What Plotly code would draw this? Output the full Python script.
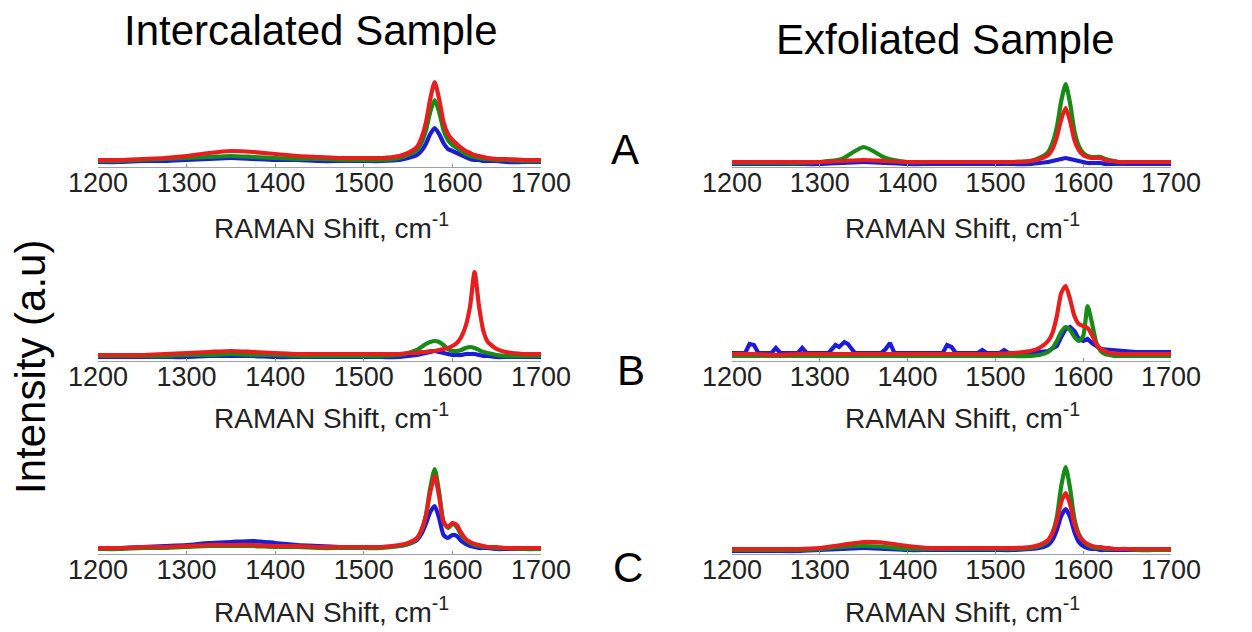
import plotly.graph_objects as go

# ---------------- data ----------------
X = [1200, 1225, 1250, 1275, 1300, 1325, 1350, 1375, 1400, 1425, 1450, 1475, 1500,
     1520, 1540, 1550, 1560, 1565, 1570, 1575, 1580, 1585, 1590, 1595, 1600,
     1605, 1610, 1615, 1620, 1625, 1630, 1635, 1640, 1650, 1660, 1680, 1700]

# Intercalated sample, row A
intA_red = [0.07,0.07,0.08,0.09,0.11,0.14,0.16,0.15,0.13,0.11,0.10,0.09,0.09,
            0.09,0.11,0.14,0.20,0.29,0.44,0.68,0.85,0.68,0.45,0.33,0.27,
            0.23,0.19,0.16,0.14,0.12,0.11,0.10,0.09,0.08,0.08,0.07,0.07]
intA_green = [0.06,0.06,0.07,0.08,0.09,0.10,0.11,0.10,0.09,0.08,0.08,0.07,0.07,
              0.07,0.09,0.12,0.17,0.24,0.36,0.55,0.67,0.55,0.37,0.27,0.22,
              0.19,0.16,0.13,0.11,0.10,0.09,0.08,0.08,0.07,0.07,0.06,0.06]
intA_blue = [0.05,0.05,0.06,0.06,0.07,0.08,0.09,0.08,0.07,0.07,0.06,0.06,0.06,
             0.06,0.07,0.09,0.12,0.16,0.23,0.33,0.39,0.33,0.24,0.18,0.16,
             0.14,0.12,0.10,0.08,0.07,0.07,0.06,0.06,0.06,0.05,0.05,0.05]

# Intercalated sample, row B
intB_red = [0.06,0.06,0.06,0.07,0.08,0.09,0.10,0.09,0.08,0.07,0.07,0.07,0.07,
            0.07,0.07,0.08,0.08,0.09,0.09,0.10,0.10,0.11,0.12,0.13,0.15,
            0.18,0.24,0.35,0.55,0.89,0.55,0.30,0.19,0.12,0.09,0.07,0.07]
intB_green = [0.05,0.05,0.05,0.05,0.06,0.06,0.07,0.06,0.06,0.05,0.05,0.05,0.05,
              0.05,0.06,0.08,0.11,0.14,0.17,0.19,0.20,0.19,0.16,0.12,0.10,
              0.10,0.11,0.13,0.14,0.13,0.11,0.09,0.08,0.06,0.05,0.05,0.05]
intB_blue = [0.04,0.04,0.04,0.04,0.04,0.05,0.05,0.05,0.04,0.04,0.04,0.04,0.04,
             0.04,0.04,0.05,0.06,0.07,0.08,0.09,0.10,0.09,0.08,0.07,0.06,
             0.06,0.06,0.07,0.07,0.07,0.06,0.05,0.05,0.04,0.04,0.04,0.04]

# Intercalated sample, row C
intC_red = [0.06,0.06,0.07,0.07,0.08,0.09,0.09,0.09,0.08,0.08,0.07,0.07,0.07,
            0.07,0.09,0.11,0.16,0.24,0.38,0.62,0.78,0.58,0.32,0.27,0.31,
            0.29,0.21,0.15,0.12,0.10,0.09,0.08,0.07,0.07,0.06,0.06,0.06]
intC_green = [0.05,0.05,0.06,0.06,0.07,0.08,0.08,0.08,0.07,0.07,0.06,0.06,0.06,
              0.06,0.08,0.10,0.15,0.23,0.38,0.66,0.85,0.62,0.32,0.26,0.30,
              0.27,0.19,0.14,0.11,0.09,0.08,0.07,0.07,0.06,0.06,0.05,0.05]
intC_blue = [0.05,0.06,0.07,0.08,0.09,0.11,0.12,0.13,0.11,0.09,0.08,0.07,0.07,
             0.07,0.08,0.10,0.14,0.20,0.30,0.42,0.48,0.36,0.19,0.16,0.19,
             0.18,0.13,0.10,0.08,0.07,0.06,0.06,0.06,0.05,0.05,0.05,0.05]

# Exfoliated sample, row A
exfA_red = [0.05,0.05,0.05,0.05,0.05,0.06,0.07,0.06,0.05,0.05,0.05,0.05,0.05,
            0.05,0.06,0.08,0.12,0.18,0.30,0.48,0.59,0.46,0.27,0.17,0.12,
            0.10,0.09,0.09,0.09,0.07,0.06,0.06,0.05,0.05,0.05,0.05,0.05]
exfA_green = [0.04,0.04,0.04,0.04,0.05,0.08,0.20,0.09,0.05,0.05,0.05,0.05,0.05,
              0.05,0.06,0.09,0.15,0.24,0.40,0.66,0.83,0.64,0.36,0.21,0.14,
              0.11,0.10,0.10,0.10,0.08,0.07,0.06,0.05,0.05,0.05,0.05,0.05]
exfA_blue = [0.03,0.03,0.03,0.03,0.03,0.04,0.05,0.04,0.03,0.03,0.03,0.03,0.03,
             0.03,0.03,0.04,0.05,0.06,0.07,0.08,0.09,0.08,0.07,0.06,0.05,
             0.04,0.04,0.04,0.04,0.03,0.03,0.03,0.03,0.03,0.03,0.03,0.03]

# Exfoliated sample, row B
exfB_red = [0.07,0.07,0.06,0.07,0.07,0.07,0.07,0.07,0.07,0.07,0.07,0.07,0.07,
            0.08,0.10,0.13,0.20,0.28,0.45,0.68,0.75,0.62,0.45,0.37,0.35,
            0.33,0.26,0.17,0.12,0.10,0.08,0.08,0.07,0.07,0.07,0.07,0.07]
exfB_green = [0.05,0.05,0.05,0.05,0.05,0.05,0.05,0.05,0.05,0.05,0.05,0.05,0.05,
              0.05,0.05,0.06,0.09,0.13,0.20,0.29,0.34,0.31,0.24,0.20,0.25,
              0.55,0.38,0.18,0.10,0.07,0.06,0.05,0.05,0.05,0.05,0.05,0.05]
exfB_blue_x = [1200,1215,1220,1225,1230,1245,1250,1255,1275,1280,1285,1310,1318,
               1322,1328,1332,1340,1370,1375,1380,1385,1440,1445,1450,1455,1480,
               1485,1490,1505,1510,1515,1540,1560,1570,1575,1580,1585,1590,1595,
               1600,1605,1610,1620,1640,1660,1680,1700]
exfB_blue = [0.08,0.08,0.17,0.16,0.08,0.08,0.13,0.08,0.08,0.13,0.08,0.08,0.16,
             0.14,0.19,0.17,0.08,0.08,0.12,0.18,0.08,0.08,0.16,0.14,0.08,0.08,
             0.11,0.08,0.08,0.11,0.08,0.08,0.10,0.15,0.24,0.32,0.34,0.30,0.22,
             0.20,0.22,0.18,0.12,0.10,0.09,0.09,0.09]

# Exfoliated sample, row C
exfC_red = [0.05,0.05,0.05,0.05,0.06,0.09,0.12,0.11,0.08,0.06,0.06,0.06,0.06,
            0.06,0.07,0.09,0.14,0.21,0.33,0.52,0.61,0.50,0.30,0.19,0.13,
            0.10,0.08,0.07,0.07,0.06,0.06,0.05,0.05,0.05,0.05,0.05,0.05]
exfC_green = [0.04,0.04,0.04,0.04,0.05,0.07,0.08,0.07,0.05,0.05,0.05,0.05,0.05,
              0.05,0.06,0.08,0.13,0.21,0.37,0.68,0.87,0.66,0.35,0.20,0.13,
              0.09,0.07,0.06,0.06,0.05,0.05,0.05,0.05,0.05,0.04,0.04,0.04]
exfC_blue = [0.03,0.03,0.03,0.03,0.04,0.05,0.06,0.05,0.04,0.04,0.04,0.04,0.04,
             0.04,0.05,0.06,0.09,0.14,0.24,0.38,0.45,0.37,0.22,0.12,0.08,
             0.06,0.05,0.05,0.04,0.04,0.04,0.04,0.04,0.04,0.04,0.04,0.04]

tick_vals = [1200, 1300, 1400, 1500, 1600, 1700]
tick_text = ["1200", "1300", "1400", "1500", "1600", "1700"]
col_titles = ["Intercalated Sample", "Exfoliated Sample"]
row_letters = ["A", "B", "C"]
x_title = "RAMAN Shift, cm<sup>-1</sup>"
y_title = "Intensity (a.u)"

# ---------------- layout helpers ----------------
# The page body adds an 8 px offset; the figure is sized so it ends at the window edge.
OFF = 8
W, H = 1252 - OFF, 632 - OFF
BLUE, GREEN, RED = "#1c1cd6", "#178a17", "#e61e1e"
FONT = "Arial, Liberation Sans, sans-serif"

def px(x):
    return (x - OFF) / W

def py(y):
    return 1 - (y - OFF) / H

col_px = [(98, 541), (732, 1171)]
row_bottom = [167, 361, 554]
row_h = 100

panels = [
    (0, 0, [(X, intA_blue, BLUE), (X, intA_green, GREEN), (X, intA_red, RED)]),
    (0, 1, [(X, exfA_blue, BLUE), (X, exfA_green, GREEN), (X, exfA_red, RED)]),
    (1, 0, [(X, intB_blue, BLUE), (X, intB_green, GREEN), (X, intB_red, RED)]),
    (1, 1, [(exfB_blue_x, exfB_blue, BLUE), (X, exfB_green, GREEN), (X, exfB_red, RED)]),
    (2, 0, [(X, intC_blue, BLUE), (X, intC_green, GREEN), (X, intC_red, RED)]),
    (2, 1, [(X, exfC_blue, BLUE), (X, exfC_green, GREEN), (X, exfC_red, RED)]),
]

fig = go.Figure()
layout = {}
for i, (r, c, series) in enumerate(panels, start=1):
    xa = "x" if i == 1 else f"x{i}"
    ya = "y" if i == 1 else f"y{i}"
    for xs, ys, colr in series:
        spiky = xs is exfB_blue_x
        fig.add_trace(go.Scatter(
            x=xs, y=ys, mode="lines", xaxis=xa, yaxis=ya,
            line=dict(color=colr, width=4.2,
                      shape="linear" if spiky else "spline",
                      smoothing=0.6),
            showlegend=False, hoverinfo="skip"))
    x0, x1 = col_px[c]
    yb = row_bottom[r]
    layout["xaxis" if i == 1 else f"xaxis{i}"] = dict(
        domain=[px(x0), px(x1)], anchor=ya, range=[1200, 1700],
        tickvals=tick_vals, ticktext=tick_text, ticks="inside", ticklen=3,
        tickcolor="#8a8fa8", showline=True, linecolor="#9aa0b8", linewidth=1,
        showgrid=False, zeroline=False, automargin=False,
        tickfont=dict(family=FONT, size=27, color="#222222"),
        ticklabelstandoff=-8,
    )
    layout["yaxis" if i == 1 else f"yaxis{i}"] = dict(
        domain=[py(yb), py(yb - row_h)], anchor=xa, range=[0, 1],
        visible=False, showgrid=False, zeroline=False, automargin=False,
    )

annotations = []
annotations.append(dict(text=col_titles[0], x=px(311), y=py(31), xref="paper", yref="paper",
                        showarrow=False, xanchor="center", yanchor="middle",
                        font=dict(family=FONT, size=42, color="#000000")))
annotations.append(dict(text=col_titles[1], x=px(945), y=py(39), xref="paper", yref="paper",
                        showarrow=False, xanchor="center", yanchor="middle",
                        font=dict(family=FONT, size=42, color="#000000")))
annotations.append(dict(text=y_title, x=px(30), y=py(367), xref="paper", yref="paper",
                        showarrow=False, xanchor="center", yanchor="middle", textangle=-90,
                        font=dict(family=FONT, size=42, color="#000000")))
for letter, (lx, ly) in zip(row_letters, [(625, 150), (631, 370), (628, 567)]):
    annotations.append(dict(text=letter, x=px(lx), y=py(ly), xref="paper", yref="paper",
                            showarrow=False, xanchor="center", yanchor="middle",
                            font=dict(family=FONT, size=42, color="#000000")))
for ty in [226, 416, 610]:
    for tx in [331, 962]:
        annotations.append(dict(text=x_title, x=px(tx), y=py(ty), xref="paper", yref="paper",
                                showarrow=False, xanchor="center", yanchor="middle",
                                font=dict(family=FONT, size=28, color="#222222")))

fig.update_layout(
    template="none",
    width=W, height=H,
    margin=dict(l=0, r=0, t=0, b=0, pad=0, autoexpand=False),
    paper_bgcolor="white", plot_bgcolor="white",
    annotations=annotations, **layout,
)

fig.write_html("out.html")
